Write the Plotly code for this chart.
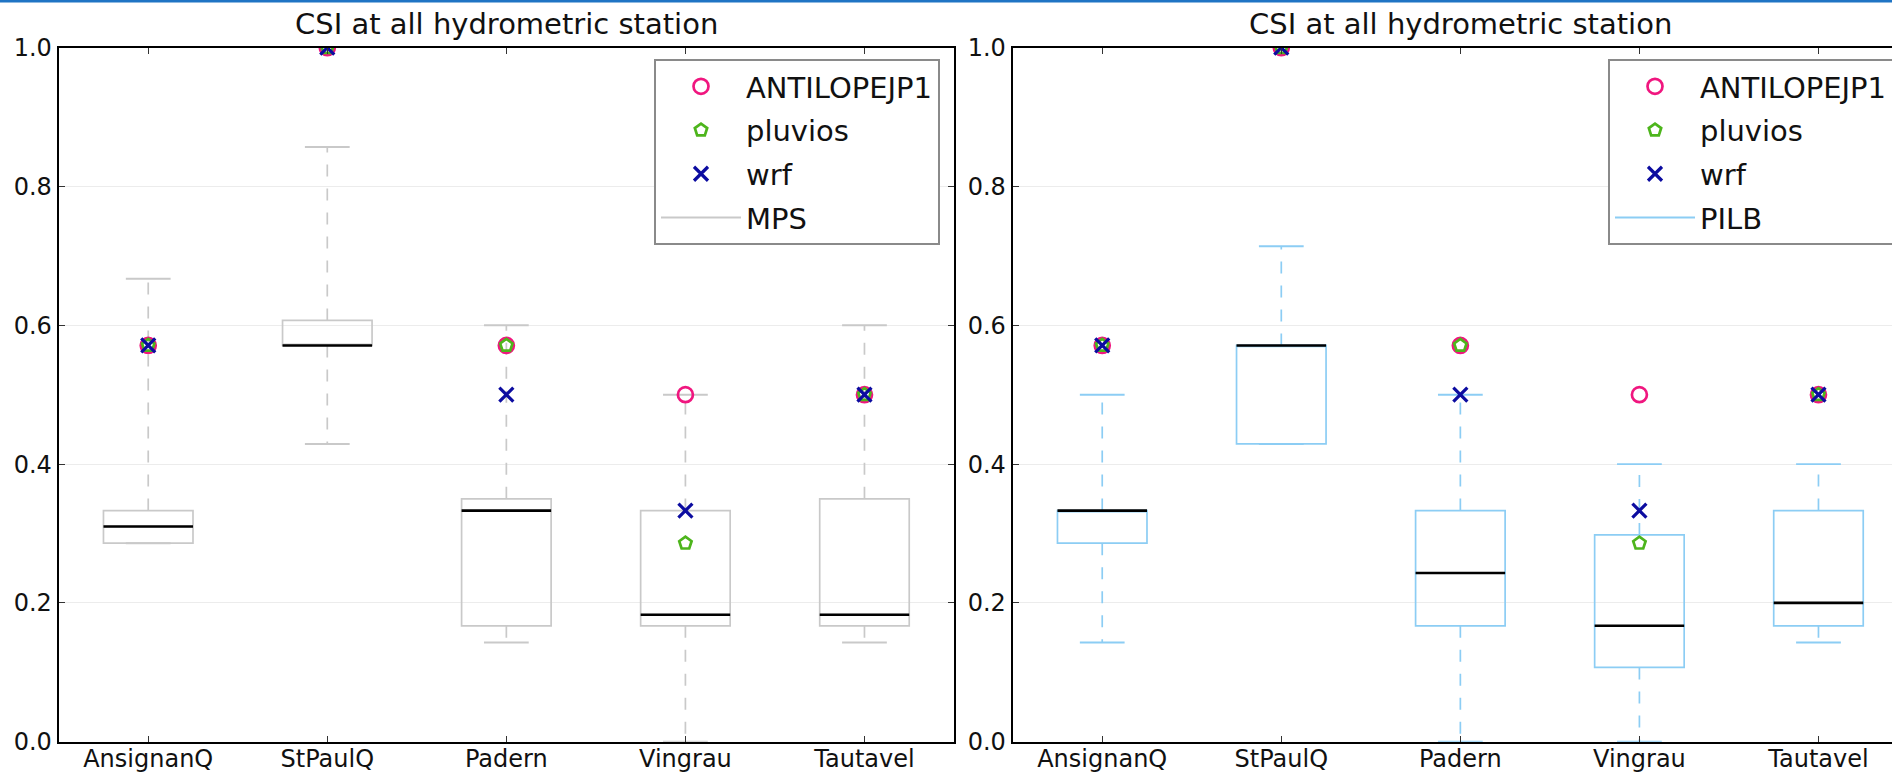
import plotly.graph_objects as go

# ---------------- data ----------------
categories = ["AnsignanQ", "StPaulQ", "Padern", "Vingrau", "Tautavel"]

# MPS ensemble box statistics (left panel)
mps_lower = [0.286, 0.429, 0.143, 0.000, 0.143]
mps_q1 = [0.286, 0.571, 0.167, 0.167, 0.167]
mps_median = [0.310, 0.571, 0.333, 0.183, 0.183]
mps_q3 = [0.333, 0.607, 0.350, 0.333, 0.350]
mps_upper = [0.667, 0.857, 0.600, 0.500, 0.600]

# PILB ensemble box statistics (right panel)
pilb_lower = [0.143, 0.429, 0.000, 0.000, 0.143]
pilb_q1 = [0.286, 0.429, 0.167, 0.107, 0.167]
pilb_median = [0.333, 0.571, 0.243, 0.167, 0.200]
pilb_q3 = [0.333, 0.571, 0.333, 0.298, 0.333]
pilb_upper = [0.500, 0.714, 0.500, 0.400, 0.400]

# deterministic runs
antilope = [0.571, 1.000, 0.571, 0.500, 0.500]
pluvios = [0.571, 1.000, 0.571, 0.286, 0.500]
wrf = [0.571, 1.000, 0.500, 0.333, 0.500]

y_ticks = [0.0, 0.2, 0.4, 0.6, 0.8, 1.0]
title_text = "CSI at all hydrometric station"

# ---------------- style ----------------
W, H = 1892, 773
FONT = "DejaVu Sans"
COL_ANT = "#f0167f"
COL_PLU = "#4db51c"
COL_WRF = "#0c0ca0"
COL_MPS = "#c9c9c9"
COL_PILB = "#8ccdf4"
BOX_HALF = 0.25
CAP_HALF = 0.125

positions = list(range(1, len(categories) + 1))

fig = go.Figure()


def add_panel(xa, ya, legend, name, color, lower, q1, med, q3, upper):
    tag = legend
    # box bodies
    fig.add_trace(go.Box(
        x=positions, q1=q1, median=med, q3=q3, lowerfence=q1, upperfence=q3,
        width=2 * BOX_HALF, whiskerwidth=0, line=dict(color=color, width=1.7),
        fillcolor="rgba(0,0,0,0)", showlegend=False, hoverinfo="skip",
        xaxis=xa, yaxis=ya, name=name, boxpoints=False,
    ))
    # dashed whiskers
    wx, wy = [], []
    for p, lo, a, b, up in zip(positions, lower, q1, q3, upper):
        wx += [p, p, None, p, p, None]
        wy += [b, up, None, a, lo, None]
    fig.add_trace(go.Scatter(
        x=wx, y=wy, mode="lines", line=dict(color=color, width=1.7, dash="12px,12px"),
        showlegend=False, hoverinfo="skip", xaxis=xa, yaxis=ya,
    ))
    # caps (carry the legend entry)
    cx, cy = [], []
    for p, lo, up in zip(positions, lower, upper):
        cx += [p - CAP_HALF, p + CAP_HALF, None, p - CAP_HALF, p + CAP_HALF, None]
        cy += [up, up, None, lo, lo, None]
    fig.add_trace(go.Scatter(
        x=cx, y=cy, mode="lines", line=dict(color=color, width=1.9),
        name=name, showlegend=True, legend=legend, legendrank=4,
        legendgroup=tag + "_ens", hoverinfo="skip", xaxis=xa, yaxis=ya,
    ))
    # medians
    mx, my = [], []
    for p, m in zip(positions, med):
        mx += [p - BOX_HALF, p + BOX_HALF, None]
        my += [m, m, None]
    fig.add_trace(go.Scatter(
        x=mx, y=my, mode="lines", line=dict(color="black", width=2.6),
        showlegend=False, hoverinfo="skip", xaxis=xa, yaxis=ya,
    ))
    # points
    fig.add_trace(go.Scatter(
        x=positions, y=antilope, mode="markers", name="ANTILOPEJP1",
        marker=dict(symbol="circle-open", size=15, color=COL_ANT, line=dict(width=2.7, color=COL_ANT)),
        legend=legend, legendrank=1, legendgroup=tag + "_ant", xaxis=xa, yaxis=ya,
    ))
    fig.add_trace(go.Scatter(
        x=positions, y=pluvios, mode="markers", name="pluvios",
        marker=dict(symbol="pentagon-open", size=13, color=COL_PLU, line=dict(width=2.7, color=COL_PLU)),
        legend=legend, legendrank=2, legendgroup=tag + "_plu", xaxis=xa, yaxis=ya,
    ))
    fig.add_trace(go.Scatter(
        x=positions, y=wrf, mode="markers", name="wrf",
        marker=dict(symbol="x-thin-open", size=14, color=COL_WRF, line=dict(width=3.2, color=COL_WRF)),
        legend=legend, legendrank=3, legendgroup=tag + "_wrf", xaxis=xa, yaxis=ya,
    ))


add_panel("x", "y", "legend", "MPS", COL_MPS, mps_lower, mps_q1, mps_median, mps_q3, mps_upper)
add_panel("x2", "y2", "legend2", "PILB", COL_PILB, pilb_lower, pilb_q1, pilb_median, pilb_q3, pilb_upper)

# ---------------- layout geometry (pixels -> paper) ----------------
L1, R1 = 58.7, 954.0
L2 = 1012.7
TOP, BOT = 47.7, 741.7
unit = (R1 - L1) / 5.0
x2_max = 0.5 + (W - L2) / unit

ydom = [(H - BOT) / H, (H - TOP) / H]

axis_common = dict(
    showline=True, linecolor="black", linewidth=2, ticks="inside", ticklen=6,
    tickwidth=1, tickcolor="#333", zeroline=False,
    tickfont=dict(family=FONT, size=24, color="#111"),
)

legend_common = dict(
    y=1 - 59 / H, xanchor="left", yanchor="top",
    bgcolor="white", bordercolor="#8a8a8a", borderwidth=2,
    font=dict(family=FONT, size=29, color="#111"), itemwidth=80,
    traceorder="grouped", tracegroupgap=3,
)

fig.update_layout(
    width=W, height=H,
    margin=dict(l=0, r=0, t=0, b=0, autoexpand=False),
    paper_bgcolor="white", plot_bgcolor="white",
    font=dict(family=FONT, color="#111"),
    showlegend=True,
    xaxis=dict(domain=[L1 / W, R1 / W], range=[0.5, 5.5], tickvals=positions,
               ticktext=categories, showgrid=False, mirror="ticks", anchor="y",
               ticklabelstandoff=-6, **axis_common),
    yaxis=dict(domain=ydom, range=[0, 1], tickvals=y_ticks, tickformat=".1f",
               showgrid=True, gridcolor="#ececec", gridwidth=1, mirror="ticks",
               anchor="x", **axis_common),
    xaxis2=dict(domain=[L2 / W, 1.0], range=[0.5, x2_max], tickvals=positions,
                ticktext=categories, showgrid=False, mirror="ticks", anchor="y2",
                ticklabelstandoff=-6, **axis_common),
    yaxis2=dict(domain=ydom, range=[0, 1], tickvals=y_ticks, tickformat=".1f",
                showgrid=True, gridcolor="#ececec", gridwidth=1, mirror=False,
                anchor="x2", **axis_common),
    legend=dict(x=654 / W, **legend_common),
    legend2=dict(x=1608 / W, **legend_common),
    annotations=[
        dict(text=title_text, xref="paper", yref="paper", x=(L1 + R1) / 2 / W,
             y=1 - 43 / H, xanchor="center", yanchor="bottom", showarrow=False,
             font=dict(family=FONT, size=29, color="#111")),
        dict(text=title_text, xref="paper", yref="paper", x=(L2 + 2.5 * unit) / W,
             y=1 - 43 / H, xanchor="center", yanchor="bottom", showarrow=False,
             font=dict(family=FONT, size=29, color="#111")),
    ],
    shapes=[
        dict(type="rect", xref="paper", yref="paper", x0=0, x1=1, y0=1 - 2.5 / H, y1=1,
             fillcolor="#1f74c4", line=dict(width=0), layer="above"),
    ],
)

fig.write_html(
    "out.html",
    config={"displayModeBar": False},
    post_script="document.body.style.margin='0px';document.body.style.overflow='hidden';",
)
